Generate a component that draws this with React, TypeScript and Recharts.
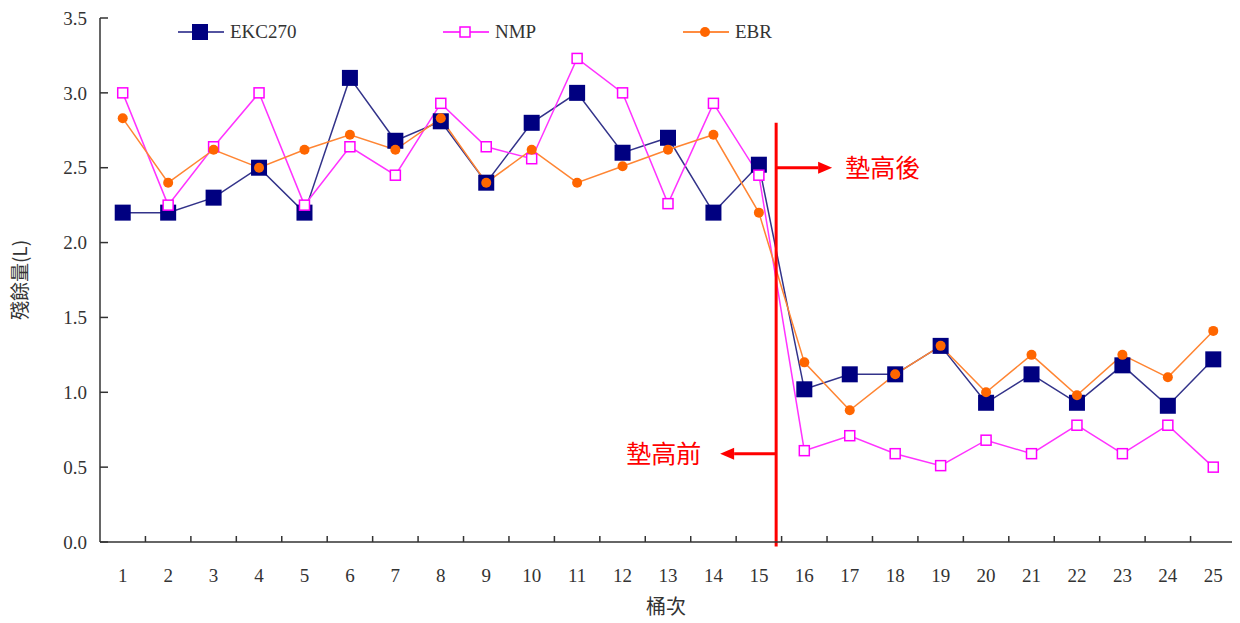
import React from "react"
import {
  ComposedChart,
  Line,
  XAxis,
  YAxis,
  ReferenceLine,
  ReferenceDot,
} from "recharts"

const runs = [1, 2, 3, 4, 5, 6, 7, 8, 9, 10, 11, 12, 13, 14, 15, 16, 17, 18, 19, 20, 21, 22, 23, 24, 25]
const ekc270 = [2.2, 2.2, 2.3, 2.5, 2.2, 3.1, 2.68, 2.81, 2.4, 2.8, 3.0, 2.6, 2.7, 2.2, 2.52, 1.02, 1.12, 1.12, 1.31, 0.93, 1.12, 0.93, 1.18, 0.91, 1.22]
const nmp = [3.0, 2.25, 2.64, 3.0, 2.25, 2.64, 2.45, 2.93, 2.64, 2.56, 3.23, 3.0, 2.26, 2.93, 2.45, 0.61, 0.71, 0.59, 0.51, 0.68, 0.59, 0.78, 0.59, 0.78, 0.5]
const ebr = [2.83, 2.4, 2.62, 2.5, 2.62, 2.72, 2.62, 2.83, 2.4, 2.62, 2.4, 2.51, 2.62, 2.72, 2.2, 1.2, 0.88, 1.12, 1.31, 1.0, 1.25, 0.98, 1.25, 1.1, 1.41]

const yTicks = [0, 0.5, 1, 1.5, 2, 2.5, 3, 3.5]
// labels at each run, small tick marks between runs
const xTicks = runs.flatMap((r) => [r, r + 0.5])

// the "raised" divider
const DIVIDER_X = 15.38
const DIVIDER_TOP = 2.8
const AFTER_Y = 2.5
const BEFORE_Y = 0.59

const data = runs.map((r, i) => ({ run: r, EKC270: ekc270[i], NMP: nmp[i], EBR: ebr[i] }))

const SERIF = "'Liberation Serif', 'Times New Roman', serif"
const CJK = "'Noto Sans CJK TC', 'Noto Sans CJK SC', sans-serif"

function XTick(props: any) {
  const { x, y, payload } = props
  const v = payload.value
  if (Number.isInteger(v)) {
    return (
      <text x={x} y={y + 40} textAnchor="middle" fontSize={19} fill="#333" fontFamily={SERIF}>
        {v}
      </text>
    )
  }
  return <line x1={x} x2={x} y1={y} y2={y - 6} stroke="#333" strokeWidth={1.5} />
}

function SquareDot(props: any) {
  const { cx, cy } = props
  if (cx == null || cy == null) return null
  return <rect x={cx - 8} y={cy - 8} width={16} height={16} fill="#000080" />
}

function OpenSquareDot(props: any) {
  const { cx, cy } = props
  if (cx == null || cy == null) return null
  return <rect x={cx - 5} y={cy - 5} width={10} height={10} fill="#fff" stroke="#ff00ff" strokeWidth={1.5} />
}

function CircleDot(props: any) {
  const { cx, cy } = props
  if (cx == null || cy == null) return null
  return <circle cx={cx} cy={cy} r={5} fill="#ff6600" />
}

function Arrow({ cx, cy, dir, label }: any) {
  if (cx == null || cy == null) return null
  const len = 56
  const end = cx + dir * len
  const head = 14
  return (
    <g>
      <line x1={cx} x2={end - dir * head} y1={cy} y2={cy} stroke="#ff0000" strokeWidth={3} />
      <polygon
        points={`${end},${cy} ${end - dir * head},${cy - 6} ${end - dir * head},${cy + 6}`}
        fill="#ff0000"
      />
      <text
        x={dir > 0 ? end + 13 : end - 19}
        y={cy + 9}
        textAnchor={dir > 0 ? "start" : "end"}
        fontSize={25}
        fill="#ff0000"
        fontFamily={CJK}
      >
        {label}
      </text>
    </g>
  )
}

function YLabel({ viewBox }: any) {
  const cy = viewBox.y + viewBox.height / 2
  return (
    <text
      x={0}
      y={0}
      transform={`translate(19, ${cy}) rotate(-90)`}
      textAnchor="middle"
      fontSize={19}
      fill="#333"
      fontFamily={CJK}
    >
      殘餘量(L)
    </text>
  )
}

function XLabel({ viewBox }: any) {
  return (
    <text x={658} y={viewBox.y + 72} textAnchor="middle" fontSize={20} fill="#333" fontFamily={CJK}>
      桶次
    </text>
  )
}

const legendItems = [
  { name: "EKC270", left: 170, color: "#1a1a80", marker: <rect x={14} y={5} width={16} height={16} fill="#000080" /> },
  { name: "NMP", left: 435, color: "#ff00ff", marker: <rect x={17} y={8} width={10} height={10} fill="#fff" stroke="#ff00ff" strokeWidth={1.5} /> },
  { name: "EBR", left: 675, color: "#ff6600", marker: <circle cx={22} cy={13} r={5} fill="#ff6600" /> },
]

function LegendBox() {
  return (
    <div style={{ position: "absolute", top: 11, left: 0, width: 1232, height: 30, pointerEvents: "none" }}>
      {legendItems.map((it) => (
        <div key={it.name} style={{ position: "absolute", left: it.left, top: 0, display: "flex", alignItems: "center" }}>
          <svg width={46} height={26}>
            <line x1={0} x2={46} y1={13} y2={13} stroke={it.color} strokeWidth={1.5} />
            {it.marker}
          </svg>
          <span style={{ fontFamily: SERIF, fontSize: 19, color: "#333", marginLeft: 6 }}>{it.name}</span>
        </div>
      ))}
    </div>
  )
}

export default function App() {
  return (
    <div style={{ width: 1232, height: 615, position: "relative", background: "#fff" }}>
      <ComposedChart width={1232} height={615} data={data} margin={{ top: 10, right: 4, bottom: 21, left: 0 }}>
        <XAxis
          dataKey="run"
          type="number"
          domain={[0.5, 25.5]}
          ticks={xTicks}
          interval={0}
          tickLine={false}
          tickSize={0}
          tickMargin={0}
          tick={<XTick />}
          axisLine={{ stroke: "#333", strokeWidth: 1.5 }}
          height={60}
          label={<XLabel />}
        />
        <YAxis
          domain={[0, 3.5]}
          ticks={yTicks}
          interval={0}
          width={92}
          tickSize={-8}
          tickMargin={21}
          tickFormatter={(v: number) => v.toFixed(1)}
          tick={{ fontSize: 19, fill: "#333", fontFamily: SERIF }}
          tickLine={{ stroke: "#333", strokeWidth: 1.5 }}
          axisLine={{ stroke: "#333", strokeWidth: 1.5 }}
          label={<YLabel />}
        />
        <Line
          dataKey="EKC270"
          stroke="#33338a"
          strokeWidth={1.5}
          dot={<SquareDot />}
          activeDot={false}
          isAnimationActive={false}
        />
        <Line
          dataKey="NMP"
          stroke="#ff33ff"
          strokeWidth={1.5}
          dot={<OpenSquareDot />}
          activeDot={false}
          isAnimationActive={false}
        />
        <Line
          dataKey="EBR"
          stroke="#ff8533"
          strokeWidth={1.5}
          dot={<CircleDot />}
          activeDot={false}
          isAnimationActive={false}
        />
        <ReferenceLine
          segment={[
            { x: DIVIDER_X, y: -0.03 },
            { x: DIVIDER_X, y: DIVIDER_TOP },
          ]}
          stroke="#ff0000"
          strokeWidth={3}
          ifOverflow="visible"
        />
        <ReferenceDot x={DIVIDER_X} y={AFTER_Y} ifOverflow="visible" shape={(p: any) => <Arrow {...p} dir={1} label="墊高後" />} />
        <ReferenceDot x={DIVIDER_X} y={BEFORE_Y} ifOverflow="visible" shape={(p: any) => <Arrow {...p} dir={-1} label="墊高前" />} />
      </ComposedChart>
      <LegendBox />
    </div>
  )
}
